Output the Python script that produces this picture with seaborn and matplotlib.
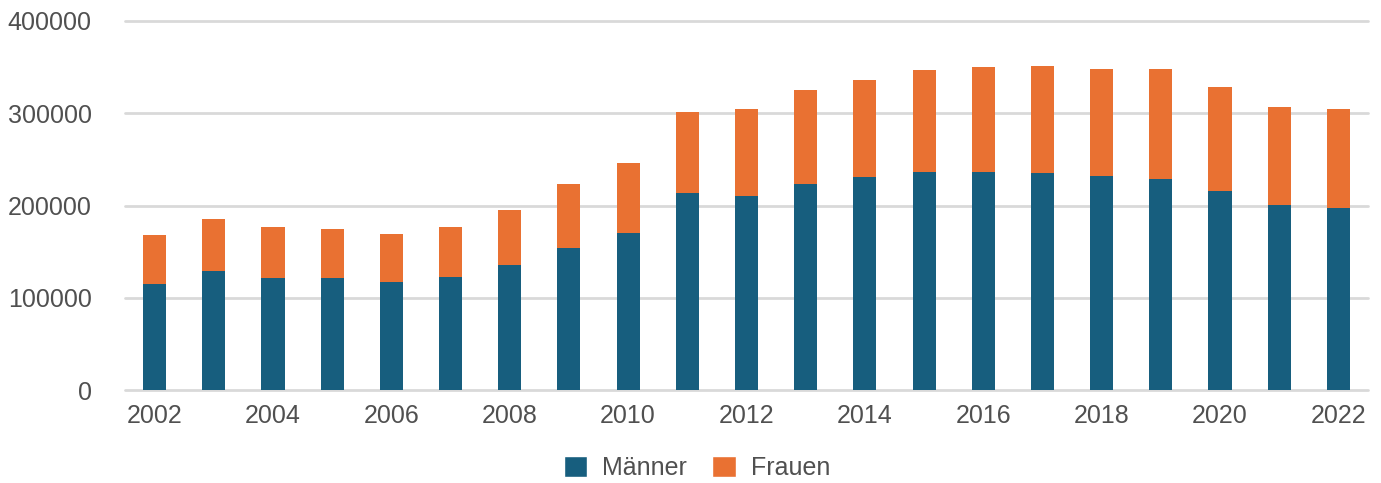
import matplotlib
matplotlib.use("Agg")
import matplotlib.pyplot as plt
import seaborn as sns
import pandas as pd
from matplotlib.patches import Patch

years = [str(y) for y in range(2002, 2023)]
maenner = [114500, 128900, 121700, 121300, 116700, 122400, 135400, 153800, 170400,
           213100, 210500, 223200, 230800, 236500, 236500, 234800, 232200, 228600,
           215600, 200400, 196900]
gesamt = [167600, 185300, 176200, 174800, 168700, 176200, 195000, 223500, 245600,
          300900, 304400, 324700, 336200, 346700, 349900, 351400, 348500, 347800,
          328300, 306300, 304400]
frauen = [g - m for g, m in zip(gesamt, maenner)]
series_names = ["Männer", "Frauen"]
tick_years = [str(y) for y in range(2002, 2023, 2)]

df = pd.DataFrame({"Jahr": years, "Männer": maenner, "Frauen": frauen})
df["Gesamt"] = df["Männer"] + df["Frauen"]

blue = "#175E7E"
orange = "#E97132"
textc = "#505050"

sns.set_theme(style="white")
plt.rcParams["font.family"] = ["Liberation Sans", "DejaVu Sans"]

fig = plt.figure(figsize=(13.81, 4.83), dpi=100)
ax = fig.add_axes([125 / 1381, 1 - 390 / 483, (1368 - 125) / 1381, (390 - 21) / 483])

sns.barplot(data=df, x="Jahr", y="Gesamt", color=orange, width=0.39,
            saturation=1, ax=ax, zorder=3, linewidth=0)
sns.barplot(data=df, x="Jahr", y="Männer", color=blue, width=0.39,
            saturation=1, ax=ax, zorder=4, linewidth=0)

ax.set_ylim(0, 400000)
ax.set_xlim(-0.5, len(years) - 0.5)
ax.set_yticks([0, 100000, 200000, 300000, 400000])
ax.set_yticklabels(["0", "100000", "200000", "300000", "400000"])
ticks = [years.index(t) for t in tick_years]
ax.set_xticks(ticks)
ax.set_xticklabels(tick_years)
ax.yaxis.grid(True, color="#d9d9d9", linewidth=2, zorder=0)
for gl in ax.get_ygridlines():
    gl.set_clip_on(False)
ax.set_axisbelow(True)
for s in ax.spines.values():
    s.set_visible(False)
ax.tick_params(axis="both", length=0, labelsize=18, labelcolor=textc)
ax.tick_params(axis="y", pad=24)
ax.tick_params(axis="x", pad=10)
ax.set_xlabel("")
ax.set_ylabel("")

handles = [Patch(facecolor=blue, label=series_names[0]),
           Patch(facecolor=orange, label=series_names[1])]
fig.legend(handles=handles, loc="center", bbox_to_anchor=(697 / 1381, 1 - 468 / 483),
           ncol=2, frameon=False, fontsize=18, labelcolor=textc,
           handlelength=0.95, handleheight=0.95, handletextpad=0.6, columnspacing=1.0)

fig.savefig("out.png", dpi=100)
